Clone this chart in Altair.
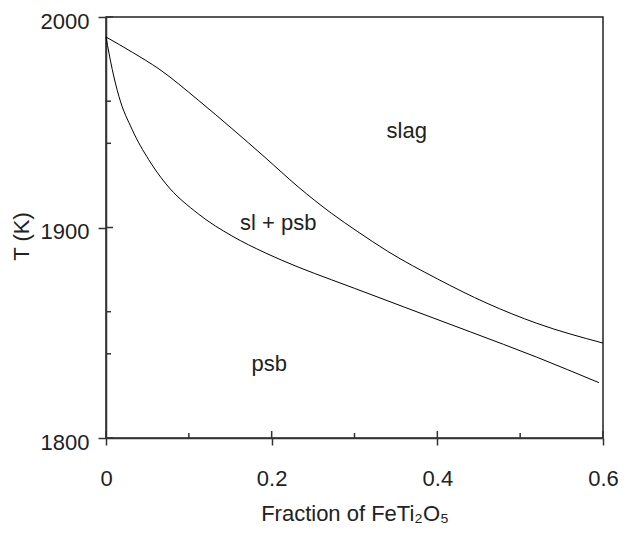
import altair as alt
import pandas as pd

# Liquidus (upper) curve
upper_x = [0.0, 0.032, 0.064, 0.112, 0.152, 0.192, 0.232, 0.272, 0.304, 0.34, 0.40, 0.46, 0.52, 0.60]
upper_y = [1990.5, 1983.2, 1975.3, 1960.3, 1947.0, 1933.3, 1919.3, 1906.8, 1898.0, 1888.7, 1875.6, 1864.0, 1854.5, 1845.1]

# Solidus (lower) curve
lower_x = [0.0, 0.0076, 0.0156, 0.0316, 0.0516, 0.0716, 0.112, 0.152, 0.192, 0.232, 0.272, 0.30, 0.36, 0.44, 0.52, 0.595]
lower_y = [1990.5, 1975.0, 1962.3, 1946.5, 1932.2, 1921.1, 1906.3, 1896.0, 1888.0, 1881.2, 1875.2, 1871.1, 1862.2, 1850.4, 1838.4, 1826.3]

# Region labels
label_text = ["slag", "sl + psb", "psb"]
label_x = [0.363, 0.208, 0.197]
label_y = [1946.0, 1902.3, 1835.0]

# Axis ticks
x_major = [0.0, 0.2, 0.4, 0.6]
x_minor = [0.1, 0.3, 0.5]
y_major = [1800, 1900, 2000]
y_minor = [1840, 1860, 1940, 1960]

W, H = 497, 421
FONT = "Liberation Sans"
FS = 22
TXT = "#222222"

curves = pd.DataFrame(
    [{"x": a, "y": b, "curve": "liquidus", "order": i} for i, (a, b) in enumerate(zip(upper_x, upper_y))]
    + [{"x": a, "y": b, "curve": "solidus", "order": i} for i, (a, b) in enumerate(zip(lower_x, lower_y))]
)
labels = pd.DataFrame({"x": label_x, "y": label_y, "text": label_text})

xscale = alt.Scale(domain=[0, 0.6], nice=False, zero=False)
yscale = alt.Scale(domain=[1800, 2000], nice=False, zero=False)
xaxis = alt.Axis(values=x_major, format="~g", tickSize=7, labelPadding=23, labelFlush=False,
                 title="Fraction of FeTi\u2082O\u2085", titlePadding=14)
yaxis = alt.Axis(values=y_major, format="d", tickSize=8, labelPadding=9, labelOffset=4,
                 labelFlush=False, title="T (K)", titlePadding=7, titleY=219)
X = alt.X("x:Q", scale=xscale, axis=xaxis)
Y = alt.Y("y:Q", scale=yscale, axis=yaxis)

lines = alt.Chart(curves).mark_line(color="black", strokeWidth=1, interpolate="monotone").encode(
    x=X, y=Y, detail="curve:N", order="order:Q",
)

text = alt.Chart(labels).mark_text(font=FONT, fontSize=FS, color=TXT).encode(
    x=X, y=Y, text="text:N",
)

ymaj = alt.Chart(pd.DataFrame({"y": y_major})).mark_rule(color="#333", strokeWidth=1.5).encode(
    y=Y, x=alt.value(0), x2=alt.value(7))
ymin = alt.Chart(pd.DataFrame({"y": y_minor})).mark_rule(color="#333", strokeWidth=1.5).encode(
    y=Y, x=alt.value(0), x2=alt.value(5))
xmaj = alt.Chart(pd.DataFrame({"x": x_major})).mark_rule(color="#333", strokeWidth=1.5).encode(
    x=X, y=alt.value(H), y2=alt.value(H - 7))
xmin = alt.Chart(pd.DataFrame({"x": x_minor})).mark_rule(color="#333", strokeWidth=1.5).encode(
    x=X, y=alt.value(H), y2=alt.value(H - 5))

chart = alt.layer(lines, text, ymaj, ymin, xmaj, xmin).properties(
    width=W, height=H,
    autosize=alt.AutoSizeParams(type="none"),
    padding={"left": 98, "top": 9, "right": 16, "bottom": 90},
).configure_axis(
    grid=False,
    labelFont=FONT, labelFontSize=FS, labelColor=TXT,
    titleFont=FONT, titleFontSize=FS, titleColor=TXT, titleFontWeight="normal",
    domainColor="#333", domainWidth=1.5, tickColor="#333", tickWidth=1.5,
).configure_view(stroke="#222", strokeWidth=1.5)

chart.save("out.html", embed_options={"renderer": "svg", "actions": False})
